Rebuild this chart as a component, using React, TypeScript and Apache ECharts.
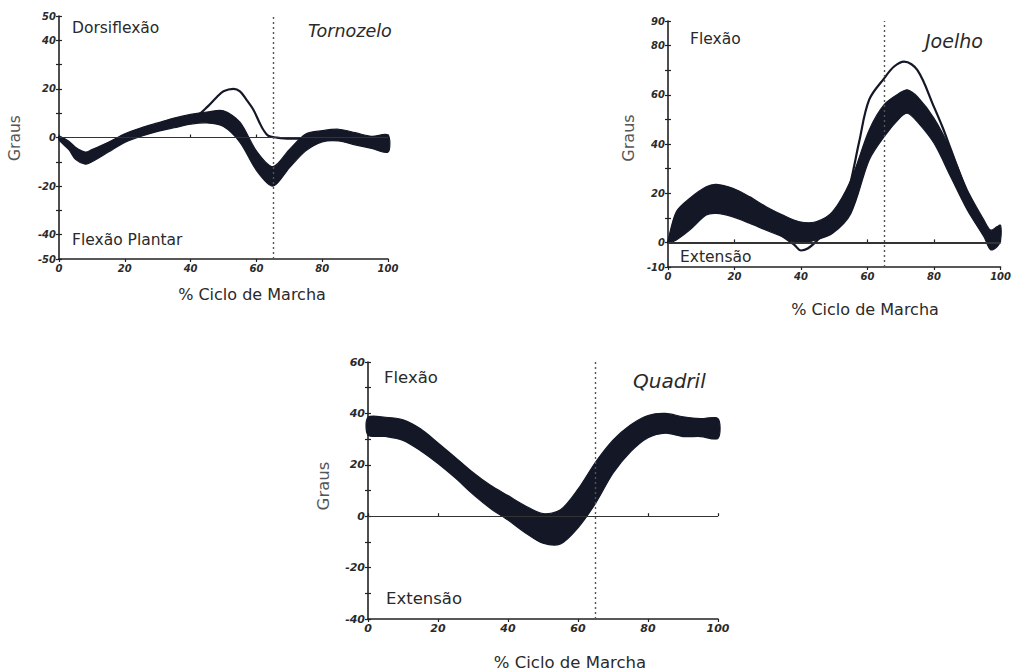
import React, { useEffect, useRef } from "react";
import * as echarts from "echarts";

const INK = "#131726";
const TXT = "#2a2a2a";
const FONT = "DejaVu Sans";

// ---- Tornozelo (ankle) ----
const ankleX = [0, 3, 5, 8, 10, 15, 20, 25, 30, 35, 40, 45, 50, 55, 60, 65, 70, 75, 80, 85, 90, 95, 100];
const ankleLower = [-1, -5, -9, -11, -10, -6, -2, 0.5, 2.5, 4, 5.5, 6, 4.5, -2, -13.5, -20, -12.5, -5.5, -1.8, -1.4, -3, -4.5, -6];
const ankleUpper = [0.5, -1.5, -4, -6, -5, -2, 1.5, 4, 6, 8, 9.5, 10.5, 11, 6.3, -5.5, -12, -5, 1.4, 2.8, 3.4, 2, 0.5, 1];
const ankleThinX = [40, 42, 45, 48, 50, 53, 55, 57, 59, 61, 62, 63.6, 66, 70, 74, 77];
const ankleThin = [8, 9, 12.5, 16.7, 19, 20, 19, 15.5, 11.6, 6, 3.4, 0.7, 0, -0.5, -0.5, 0.5];
const ankleYLabels = [50, 40, 20, 0, -20, -40, -50];

// ---- Joelho (knee) ----
const kneeX = [0, 2.5, 6.5, 11.5, 14.5, 19.5, 24.5, 29.5, 34.5, 39.5, 44.5, 49.5, 55, 60.5, 65, 70, 72, 75, 80, 85, 90, 95, 97, 99, 100];
const kneeLower = [-0.3, 1, 5, 11.1, 11.8, 10.4, 7.8, 5, 2.3, -0.4, 1, 3.7, 11.8, 33.5, 43, 51, 52.5, 49, 40.3, 26.7, 13.2, 2.3, -3, -1.7, 1];
const kneeUpper = [0.8, 12.5, 17.9, 22.6, 23.6, 22, 18.6, 14.5, 11.1, 8.4, 8.4, 12.5, 25.4, 45.7, 56, 61, 62, 59.2, 50.4, 37.6, 21.3, 9.1, 5, 6.4, 7];
const kneeThinX = [30, 35, 38, 40, 42, 45, 50, 52.5, 55, 57.5, 60.5, 65, 68, 71, 75, 80, 82.5, 85, 90, 95, 97];
const kneeThin = [6, 2, -1, -3.3, -2.5, 1, 8, 13, 25, 41, 58, 66.7, 71.5, 73.5, 70, 55, 47, 38, 20, 6, 1];
const kneeYLabels = [90, 80, 60, 40, 20, 0, -10];

// ---- Quadril (hip) ----
const hipX = [0, 5, 10, 15, 20, 25, 30, 35, 40, 45, 50, 55, 60, 65, 70, 75, 80, 85, 90, 95, 100];
const hipLower = [31.6, 31, 29.5, 25.5, 20.5, 14.8, 8.5, 3, -1.5, -6.5, -10.5, -10.8, -4.5, 5, 16.7, 25, 30.5, 32.3, 31, 31, 30.3];
const hipUpper = [38.5, 38.5, 37.5, 34, 28.5, 22.8, 17, 12, 8, 4, 1, 2.5, 10.5, 21, 29.6, 35.5, 39.2, 40, 38.7, 38, 38];
const hipYLabels = [60, 40, 20, 0, -20, -40];

const xTickLabels = [0, 20, 40, 60, 80, 100];
const toeOff = 65;

const panels = [
  { x: ankleX, lo: ankleLower, hi: ankleUpper, thinX: ankleThinX, thin: ankleThin, min: -50, max: 50, yLabels: ankleYLabels, tick: 10, zeroW: 1.2,
    grid: { left: 59, top: 16, width: 329, height: 243 } },
  { x: kneeX, lo: kneeLower, hi: kneeUpper, thinX: kneeThinX, thin: kneeThin, min: -10, max: 90, yLabels: kneeYLabels, tick: 10, zeroW: 2,
    grid: { left: 668, top: 21, width: 334, height: 246 } },
  { x: hipX, lo: hipLower, hi: hipUpper, thinX: null, thin: null, min: -40, max: 60, yLabels: hipYLabels, tick: 11, zeroW: 1.2,
    grid: { left: 368, top: 362, width: 350, height: 257 } },
];

const tickLabelStyle = (fs: number) => ({
  fontSize: fs,
  fontStyle: "italic" as const,
  fontWeight: "bold" as const,
  fontFamily: FONT,
  color: TXT,
});

function buildOption() {
  const xAxis: any[] = [];
  const yAxis: any[] = [];
  const series: any[] = [];
  panels.forEach((p, i) => {
    const axLine = { show: true, onZero: false, lineStyle: { color: "#222", width: 1.6 } };
    xAxis.push({
      type: "value", gridIndex: i, position: "bottom", min: 0, max: 100, interval: 20,
      axisLine: axLine,
      axisTick: { show: true, length: 3, lineStyle: { color: "#222", width: 1.2 } },
      axisLabel: { ...tickLabelStyle(p.tick), margin: 4, formatter: (v: number) => (xTickLabels.includes(v) ? String(v) : "") },
      splitLine: { show: false },
    });
    xAxis.push({
      type: "value", gridIndex: i, position: "bottom", min: 0, max: 100, interval: 20,
      axisLine: { show: false },
      axisTick: { show: true, inside: true, length: 3, lineStyle: { color: "#222", width: 1.2 } },
      axisLabel: { show: false },
      splitLine: { show: false },
    });
    yAxis.push({
      type: "value", gridIndex: i, position: "left", min: p.min, max: p.max, interval: 10,
      axisLine: axLine,
      axisTick: { show: true, length: 3, lineStyle: { color: "#222", width: 1.2 } },
      axisLabel: { ...tickLabelStyle(p.tick), margin: 3, formatter: (v: number) => (p.yLabels.includes(v) ? String(v) : "") },
      splitLine: { show: false },
    });
    yAxis.push({
      type: "value", gridIndex: i, position: "left", min: p.min, max: p.max, interval: 10,
      axisLine: { show: false },
      axisTick: { show: true, inside: true, length: 3, lineStyle: { color: "#222", width: 1.2 } },
      axisLabel: { show: false },
      splitLine: { show: false },
    });
    const xi = 2 * i;
    const yi = 2 * i;
    // invisible carrier of the reference lines (zero line, toe-off)
    series.push({
      type: "line", xAxisIndex: xi, yAxisIndex: yi, symbol: "none", z: 2,
      lineStyle: { opacity: 0 },
      data: p.x.map((x, k) => [x, p.lo[k]]),
      markLine: {
        silent: true, symbol: "none", animation: false, label: { show: false },
        data: [
          { yAxis: 0, lineStyle: { type: "solid", color: "#333", width: p.zeroW } },
          { xAxis: toeOff, lineStyle: { type: [2, 3], color: "#555", width: 1.4 } },
        ],
      },
    });
    // band between lower and upper curves
    const xs = p.x, lo = p.lo, hi = p.hi;
    series.push({
      type: "custom", xAxisIndex: xi, yAxisIndex: yi, z: 3,
      data: xs.map((x, k) => [x, lo[k], hi[k]]),
      encode: { x: 0, y: [1, 2] },
      renderItem: (params: any, api: any) => {
        if (params.dataIndex !== 0) return null;
        const pts: number[][] = [];
        for (let k = 0; k < xs.length; k++) pts.push(api.coord([xs[k], hi[k]]));
        for (let k = xs.length - 1; k >= 0; k--) pts.push(api.coord([xs[k], lo[k]]));
        return {
          type: "polygon",
          shape: { points: pts, smooth: 0.3 },
          style: { fill: INK, stroke: INK, lineWidth: 1.2 },
        };
      },
    });
    if (p.thinX && p.thin) {
      const t = p.thin;
      series.push({
        type: "line", xAxisIndex: xi, yAxisIndex: yi, smooth: 0.35, symbol: "none", z: 4,
        lineStyle: { color: INK, width: 2.2 },
        data: p.thinX.map((x, k) => [x, t[k]]),
      });
    }
  });

  const txt = (text: string, x: number, y: number, fs: number, opts: any = {}) => ({
    type: "text", x, y, rotation: opts.rotation || 0, z: 10,
    style: {
      text, fontSize: fs, fontFamily: FONT, fontStyle: opts.italic ? "italic" : "normal",
      fill: opts.color || TXT, align: opts.align || "left", verticalAlign: "middle",
    },
  });

  const graphic = [
    // Ankle
    txt("Dorsiflexão", 72, 28, 15.5),
    txt("Tornozelo", 308, 31, 17.5, { italic: true }),
    txt("Flexão Plantar", 72, 240, 15.5),
    txt("Graus", 15, 138, 15.5, { align: "center", rotation: Math.PI / 2, color: "#555" }),
    txt("% Ciclo de Marcha", 252, 294, 16, { align: "center" }),
    // Knee
    txt("Flexão", 690, 39, 15.5),
    txt("Joelho", 925, 41, 19, { italic: true }),
    txt("Extensão", 680, 257, 15.5),
    txt("Graus", 628, 138, 16, { align: "center", rotation: Math.PI / 2, color: "#555" }),
    txt("% Ciclo de Marcha", 865, 309, 16, { align: "center" }),
    // Hip
    txt("Flexão", 384, 377, 16.5),
    txt("Quadril", 633, 381, 20, { italic: true }),
    txt("Extensão", 386, 598, 16.5),
    txt("Graus", 323, 486, 16.5, { align: "center", rotation: Math.PI / 2, color: "#555" }),
    txt("% Ciclo de Marcha", 570, 662, 16.5, { align: "center" }),
  ];

  return {
    animation: false,
    backgroundColor: "#ffffff",
    grid: panels.map((p) => ({ ...p.grid, containLabel: false })),
    xAxis,
    yAxis,
    series,
    graphic,
  };
}

export default function App() {
  const ref = useRef<HTMLDivElement>(null);
  useEffect(() => {
    if (!ref.current) return;
    const chart = echarts.init(ref.current, null, { renderer: "svg" });
    chart.setOption(buildOption() as any);
    return () => chart.dispose();
  }, []);
  return (
    <div
      ref={ref}
      style={{ position: "absolute", left: 0, top: 0, width: 1014, height: 672, background: "#fff" }}
    />
  );
}
